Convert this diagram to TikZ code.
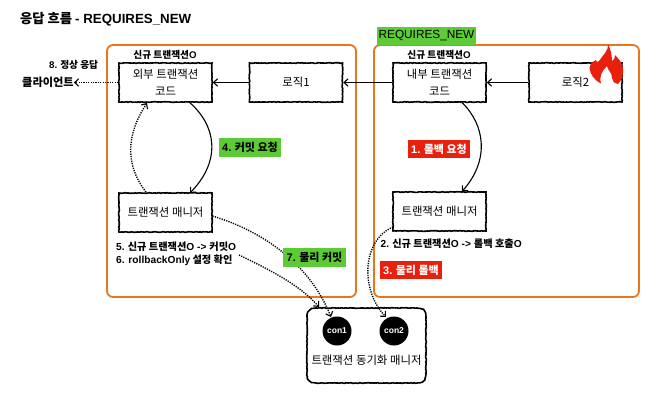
\documentclass[tikz,border=0pt]{standalone}
\usepackage{fontspec}
\setmainfont{Noto Sans CJK KR}
\newfontfamily\latinface{Liberation Sans}
\newcommand{\la}[1]{{\latinface #1}}
\usetikzlibrary{decorations.pathmorphing,arrows.meta}
\definecolor{frameorange}{HTML}{E8761C}
\definecolor{tagGreen}{HTML}{5CCB35}
\definecolor{tagRed}{HTML}{E8200C}
\tikzset{
  x=1pt,y=-1pt,
  rough/.style={decorate,decoration={random steps,segment length=1.5pt,amplitude=.35pt}},
  sketchbox/.style={draw=black,fill=white,line width=1.6pt,minimum width=93pt,minimum height=39pt,
    inner sep=0pt,align=center,font=\fontsize{11.4}{16.5}\selectfont,rough},
  frame/.style={draw=frameorange,line width=1.8pt,rounded corners=6pt},
  tag/.style={inner sep=0pt,font=\fontsize{11}{12}\selectfont\bfseries,minimum height=18.5pt},
  note/.style={inner sep=0pt,font=\fontsize{9.7}{13.5}\selectfont\bfseries,align=left},
  widenote/.style={note,font=\fontsize{10.2}{13.5}\selectfont\bfseries},
  solidflow/.style={line width=1.1pt,-{Straight Barb[length=4pt,width=7.5pt,line width=1.1pt]}},
  dotflow/.style={line width=1.4pt,dash pattern=on 1.2pt off 1.2pt,-{Straight Barb[length=4pt,width=7.5pt,line width=1.1pt,sep=0pt]}},
  conn/.style={circle,fill=black,text=white,minimum size=29pt,inner sep=0pt,font=\fontsize{8.5}{9}\selectfont\bfseries\latinface},
}
\begin{document}
\begin{tikzpicture}
\useasboundingbox (0,0) rectangle (650,407);
\fill[white] (0,0) rectangle (650,407);

% Heading
\node[anchor=west,inner sep=0pt,font=\fontsize{13.3}{15}\selectfont\bfseries] (heading) at (20,19) {응답 흐름 \la{- REQUIRES\_NEW}};

% Transaction frames
\draw[frame] (107,45) rectangle (356,297);
\draw[frame] (374,45) rectangle (639,297);
\node[tag,fill=tagGreen,minimum width=99pt,font=\fontsize{11.8}{13}\selectfont\latinface] (reqnew) at (426.5,36) {REQUIRES\_NEW};
\node[note] (txa) at (165,54.5) {신규 트랜잭션\la{O}};
\node[note] (txb) at (439,54.5) {신규 트랜잭션\la{O}};

% Code and logic boxes
\node[sketchbox] (outer) at (165.5,82.5) {외부 트랜잭션\\코드};
\node[sketchbox] (logica) at (296,82.5) {로직1};
\node[sketchbox] (inner) at (439.5,82.5) {내부 트랜잭션\\코드};
\node[sketchbox] (logicb) at (575.5,82.5) {로직2};
\node[sketchbox] (mgra) at (165.5,212.5) {트랜잭션 매니저};
\node[sketchbox] (mgrb) at (439.5,211.5) {트랜잭션 매니저};

% Flame on the second logic box
\fill[tagRed] (608,44)
  .. controls (609,50) and (603,55) .. (599,61)
  .. controls (598,62) and (597,63) .. (596,60)
  .. controls (592,62) and (590,64) .. (589.5,68)
  .. controls (590,74) and (594,80) .. (601,83.5)
  .. controls (599,76) and (602,71) .. (607,66)
  .. controls (608,71) and (612,72) .. (612,78)
  .. controls (612,81) and (614,83) .. (618,84)
  .. controls (622,80) and (624,74) .. (623,68)
  .. controls (622,62) and (618,58) .. (615,55)
  .. controls (615,58) and (614,60) .. (612,61)
  .. controls (612,54) and (610,48) .. (608,44) -- cycle;

% Synchronization manager outline with hand-built corners, and its connections
\draw[fill=white,line width=1.6pt,rough]
  (307,317) .. controls (307,311) and (310,308) .. (316,308)
  -- (417,308) .. controls (423,308) and (426,311) .. (426,317)
  -- (426,374) .. controls (426,380) and (423,383) .. (417,383)
  -- (316,383) .. controls (310,383) and (307,380) .. (307,374)
  -- cycle;
\node[inner sep=0pt,font=\fontsize{11.4}{13}\selectfont] (synclabel) at (366.5,360) {트랜잭션 동기화 매니저};
\node[conn] (con1) at (337,331) {con1};
\node[conn] (con2) at (394,331) {con2};

% Notes
\node[note,anchor=west] (n8) at (49,64.5) {\la{8.} 정상 응답};
\node[inner sep=0pt,anchor=west,font=\fontsize{11.2}{13}\selectfont\bfseries] (client) at (22,82.5) {클라이언트};
\node[widenote,anchor=west] (n56) at (116,253.5) {\la{5.} 신규 트랜잭션\la{O -> }커밋\la{O}\\\la{6. rollbackOnly} 설정 확인};
\node[widenote,anchor=west] (n2) at (380.5,244) {\la{2.} 신규 트랜잭션\la{O -> }롤백 호출\la{O}};

% Solid flows
\draw[solidflow] (logica.west) -- (outer.east);
\draw[solidflow] (inner.west) -- (logica.east);
\draw[solidflow] (logicb.west) -- (inner.east);
\draw[solidflow] (189,102) .. controls (216,125) and (222,160) .. (190,193);
\draw[solidflow] (462,102.5) .. controls (485,125) and (490,160) .. (462,191.5);

% Dotted flows
\draw[dotflow] (outer.west) -- (client.east);
\draw[dotflow] (146,192) .. controls (125,165) and (126,135) .. (147,103);
\draw[dotflow] (212.5,216) .. controls (265,232) and (310,265) .. (331,317);
\draw[dotflow] (239,255) .. controls (270,270) and (300,285) .. (319,307);
\draw[dotflow] (393,227) .. controls (362,240) and (360,290) .. (386,317);

% Coloured step labels
\node[tag,fill=tagGreen,minimum width=62pt] (s4) at (250,147.5) {\la{4.} 커밋 요청};
\node[tag,fill=tagRed,text=white,minimum width=62pt] (s1) at (439,149) {\la{1.} 롤백 요청};
\node[tag,fill=tagGreen,minimum width=63pt] (s7) at (314.5,257.5) {\la{7.} 물리 커밋};
\node[tag,fill=tagRed,text=white,minimum width=62pt] (s3) at (411,270) {\la{3.} 물리 롤백};
\end{tikzpicture}
\end{document}
